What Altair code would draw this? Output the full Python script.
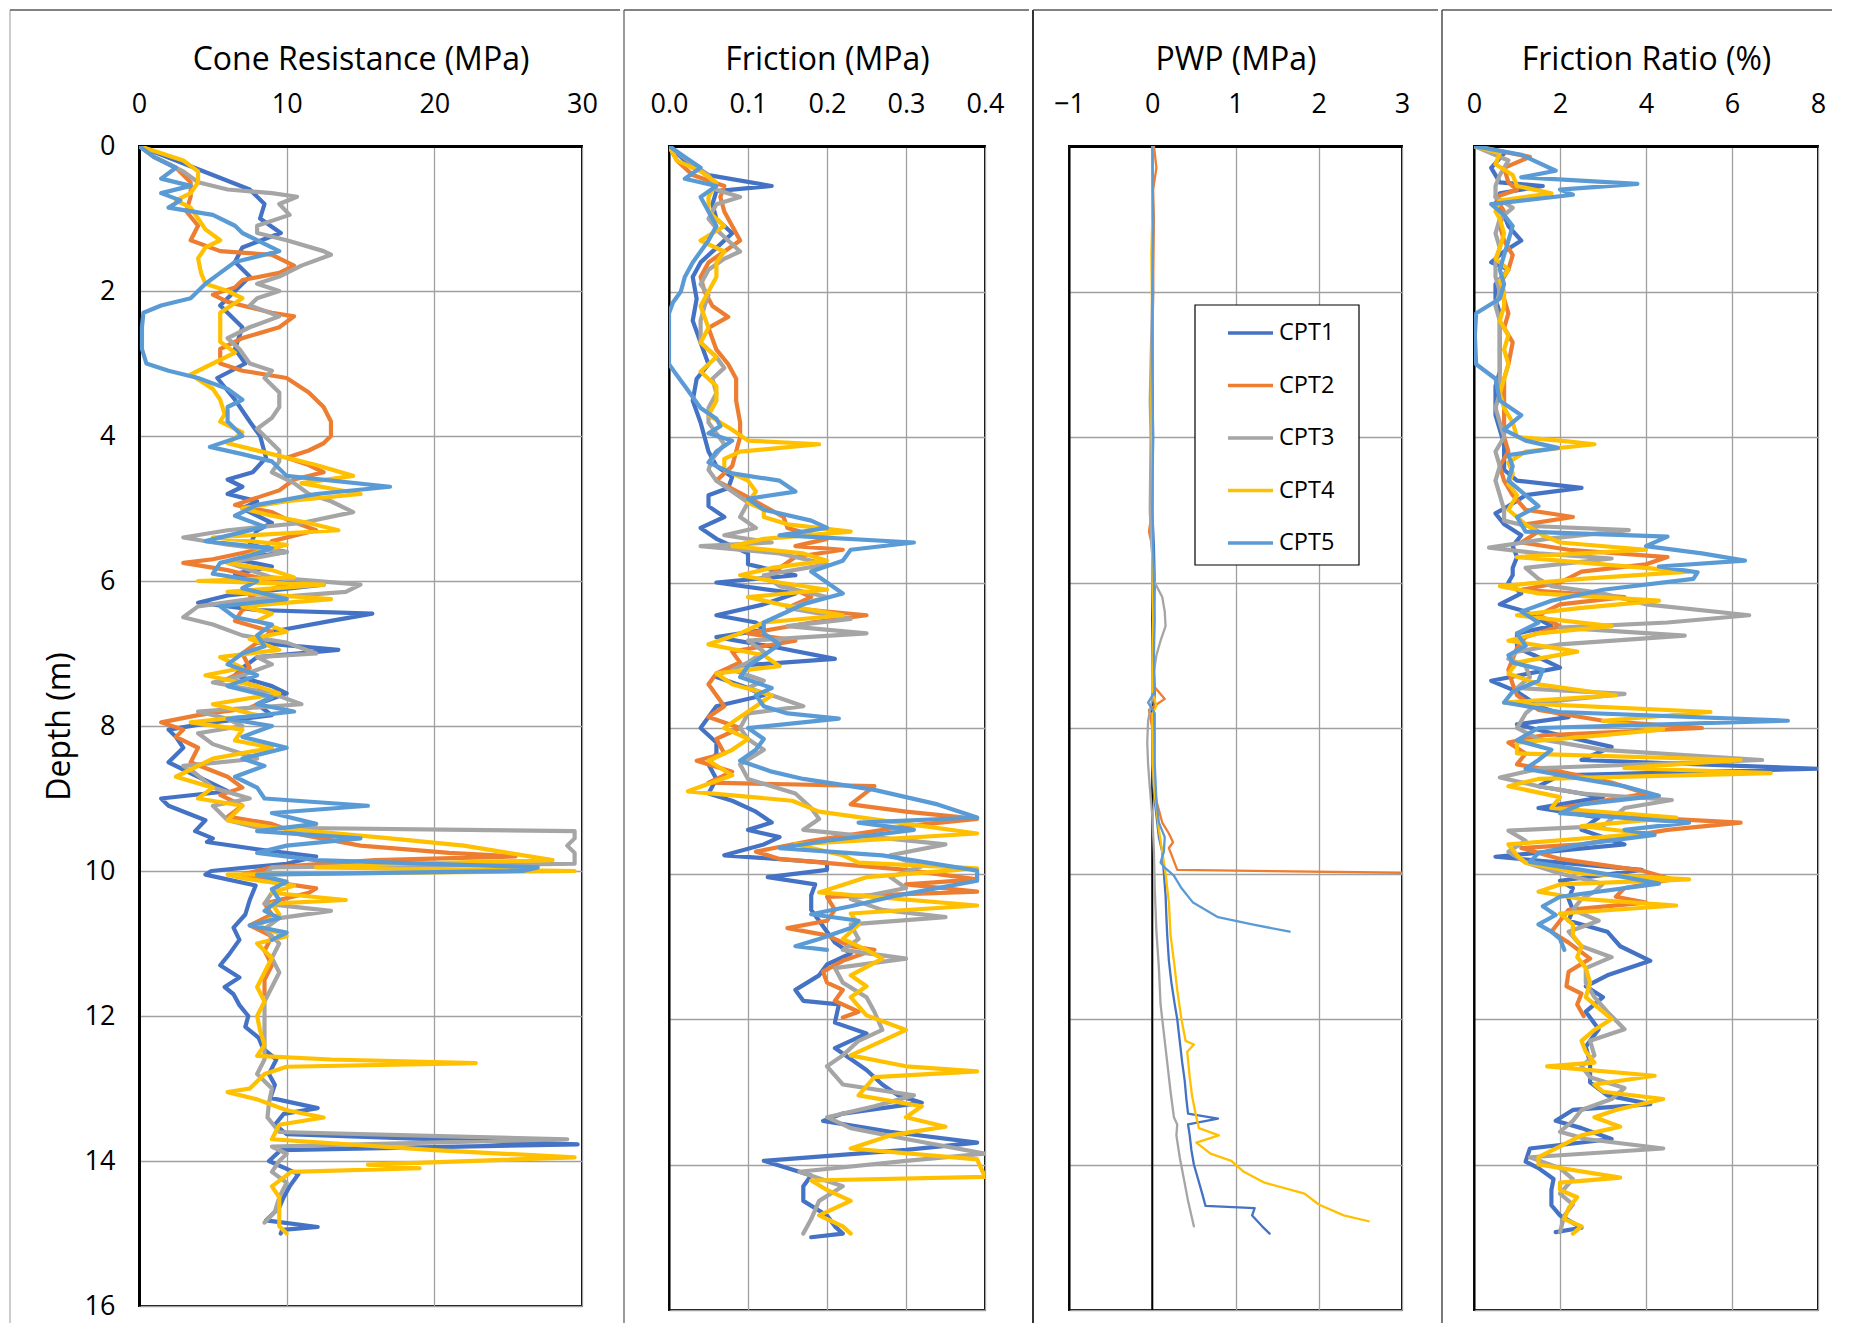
import altair as alt
import pandas as pd

SERIES = ["CPT1", "CPT2", "CPT3", "CPT4", "CPT5"]
COLORS = ["#4472C4", "#ED7D31", "#A5A5A5", "#FFC000", "#5B9BD5"]
FONT = "Open Sans"

# ---------------- Cone resistance qc (MPa): (depth m, value) ----------------
qc_cpt1 = [(0,0),(0.2,2.5),(0.4,5),(0.6,7.5),(0.8,8.5),(1.0,8.2),(1.2,9.6),(1.4,7),(1.6,6.5),(1.8,7.5),(2.0,6.5),(2.2,5.5),(2.5,7),(2.8,6.5),(3.0,7.2),(3.2,5.3),(3.5,6.5),(3.8,7.5),(4.0,8.2),(4.3,8.6),(4.5,7.7),(4.6,6),(4.7,7),(4.8,6),(4.9,8),(5.0,7),(5.2,9),(5.3,8),(5.5,7.5),(5.6,10),(5.7,6.5),(5.8,9),(5.9,6.5),(6.0,8),(6.05,12.5),(6.2,6),(6.3,4),(6.4,8),(6.45,15.8),(6.55,13),(6.7,9),(6.85,8),(6.95,13.5),(7.05,8),(7.2,7),(7.3,6.5),(7.45,9),(7.55,10),(7.7,8),(7.85,9),(7.95,5),(8.05,2),(8.15,2.5),(8.3,3),(8.5,2),(8.7,4),(8.9,6),(9.0,1.5),(9.1,2),(9.3,4.5),(9.45,3.8),(9.55,5),(9.6,4.6),(9.7,8),(9.8,12),(9.9,10),(10.0,4.9),(10.05,4.5),(10.2,7.9),(10.4,7.5),(10.6,7.2),(10.78,6.4),(10.95,6.8),(11.15,6.1),(11.3,5.5),(11.47,6.8),(11.6,5.8),(11.7,6.4),(11.85,6.8),(12.0,7.4),(12.15,7.2),(12.3,8.1),(12.45,8.4),(12.6,9.3),(12.8,8.8),(12.95,9.2),(13.13,8.9),(13.27,12.1),(13.35,9.8),(13.5,9.2),(13.63,10),(13.77,29.7),(13.85,9.6),(14.0,8.8),(14.18,10.8),(14.35,10.2),(14.5,9.8),(14.64,9.5),(14.82,8.6),(14.91,12.1),(14.95,9.7),(15.0,9.6)]
qc_cpt2 = [(0,0),(0.15,1),(0.3,2.5),(0.5,3.5),(0.7,3.5),(0.9,3.2),(1.1,4),(1.3,3.5),(1.45,5.5),(1.5,9),(1.65,10.5),(1.75,9.5),(1.85,7),(1.95,6.5),(2.05,5),(2.15,6),(2.3,9),(2.35,10.5),(2.5,9.5),(2.65,7),(2.8,5.5),(3.0,5.5),(3.1,7),(3.2,10),(3.4,11.5),(3.6,12.5),(3.8,13),(4.0,13),(4.1,12.5),(4.2,11.5),(4.3,10),(4.4,11.5),(4.5,12.5),(4.6,10.5),(4.75,9.5),(4.85,8),(4.95,6.5),(5.05,9),(5.15,10),(5.3,12),(5.45,9),(5.55,8.5),(5.7,5),(5.75,3),(5.85,6),(5.95,8),(6.05,10),(6.2,7.5),(6.3,8.5),(6.4,7),(6.55,6.5),(6.7,9),(6.85,8),(7.0,7),(7.2,7.5),(7.35,6),(7.45,8),(7.6,9),(7.75,7.5),(7.85,4),(7.95,1.5),(8.05,3),(8.15,2.5),(8.3,4),(8.5,3.5),(8.7,6),(8.85,7),(8.95,5.5),(9.1,7),(9.25,6),(9.35,9),(9.5,11),(9.65,15),(9.75,21),(9.8,25.5),(9.85,16),(9.95,9),(10.05,7),(10.15,9),(10.24,12),(10.3,11.5),(10.45,8.5),(10.6,9),(10.75,7.5),(10.9,9),(11.1,8.5),(11.3,9),(11.5,8.5),(11.7,8.5)]
qc_cpt3 = [(0,0),(0.15,1),(0.35,3),(0.5,4),(0.6,6),(0.65,9),(0.7,10.7),(0.8,9.5),(0.95,10.2),(1.1,8),(1.2,8),(1.3,10),(1.45,12.5),(1.5,13),(1.65,11),(1.8,9.5),(1.9,8),(2.0,9.5),(2.1,8),(2.2,7.5),(2.35,9.5),(2.5,7.5),(2.65,6),(2.8,6.8),(3.0,7.5),(3.1,9),(3.2,8.5),(3.4,9.5),(3.6,9.5),(3.75,9),(3.9,8),(4.0,8.5),(4.2,9.5),(4.35,9.5),(4.5,9),(4.65,10.5),(4.8,11.5),(4.9,13),(5.05,14.5),(5.2,11),(5.3,6),(5.4,3),(5.5,6),(5.6,10),(5.75,6),(5.85,7.5),(5.95,9),(6.05,15),(6.15,14),(6.25,7.5),(6.35,4),(6.5,3),(6.6,5),(6.75,7),(6.85,10),(7.0,12),(7.05,8),(7.15,9),(7.3,7),(7.4,5),(7.55,9),(7.7,11),(7.8,4),(7.9,6),(8.0,7),(8.1,4),(8.25,5),(8.45,8),(8.55,3),(8.65,3.8),(8.85,5),(9.0,7.5),(9.1,5),(9.3,6),(9.4,8),(9.45,29.5),(9.55,29.5),(9.65,29),(9.75,29.5),(9.9,29.5),(9.95,9),(10.05,8.5),(10.2,9.5),(10.3,9),(10.45,8.5),(10.55,13),(10.65,9.5),(10.8,8.5),(11.0,9.5),(11.2,9),(11.4,9.5),(11.6,9),(11.8,8.5),(12.0,8.5),(12.3,8.5),(12.6,8.5),(12.8,8),(13.0,9),(13.2,8.8),(13.4,8.7),(13.6,9.5),(13.7,29),(13.8,9),(13.9,10),(14.0,9.5),(14.15,9),(14.3,10),(14.5,9.5),(14.7,9.2),(14.85,8.5)]
qc_cpt4 = [(0,0),(0.1,1.5),(0.2,3),(0.35,4),(0.5,4),(0.65,3.5),(0.75,2.5),(0.85,3.5),(1.0,4),(1.15,4.5),(1.3,5.5),(1.4,4.5),(1.55,4),(1.75,4.2),(1.9,4.5),(2.0,6),(2.1,7),(2.3,5.5),(2.5,5.5),(2.7,5.5),(2.85,6.5),(3.0,5),(3.15,3.5),(3.35,5),(3.5,5.5),(3.7,5.8),(3.8,5.5),(3.95,7),(4.1,6),(4.25,9),(4.4,12),(4.55,14.5),(4.65,11),(4.8,15),(4.9,10),(5.0,7),(5.1,9),(5.2,11.5),(5.3,13.5),(5.4,5),(5.5,10),(5.6,8),(5.75,6),(5.85,9),(5.95,10.5),(6.0,4),(6.05,12.5),(6.15,6),(6.25,13),(6.35,7),(6.45,9),(6.55,8),(6.7,10),(6.8,7.5),(6.95,9.5),(7.05,5.5),(7.2,7),(7.3,4.5),(7.45,8),(7.55,9.5),(7.7,5),(7.85,8),(7.95,3.5),(8.05,7),(8.2,6.5),(8.3,9),(8.45,5),(8.6,3.5),(8.7,2.5),(8.85,5),(9.0,4),(9.1,7),(9.3,6),(9.4,9),(9.55,17),(9.65,22),(9.75,25),(9.85,28),(9.9,18),(9.95,12),(10.0,29.5),(10.05,6),(10.1,7),(10.2,10.5),(10.3,9),(10.4,14),(10.45,9),(10.6,9.5),(10.75,8),(10.9,10),(11.0,8),(11.2,9),(11.4,8.5),(11.6,8),(11.8,8.5),(12.0,8),(12.2,8.2),(12.4,8.5),(12.55,8),(12.6,13),(12.65,22.8),(12.7,10),(12.8,8.5),(13.0,7.5),(13.05,6),(13.15,8),(13.3,10),(13.4,12.5),(13.5,9.5),(13.7,9),(13.85,20),(13.95,29.5),(14.05,15.5),(14.1,19),(14.15,10.3),(14.35,9),(14.5,9.5),(14.7,9.5),(14.9,9.5),(15.0,10)]
qc_cpt5 = [(0,0),(0.15,1),(0.3,2.5),(0.45,1.5),(0.55,3.5),(0.65,1.5),(0.75,2.8),(0.85,2),(0.95,5),(1.1,6.5),(1.2,7),(1.35,8.5),(1.45,9.5),(1.6,6.5),(1.75,5.5),(1.9,4.5),(2.0,4),(2.1,3.5),(2.2,1.5),(2.3,0.3),(2.5,0.2),(2.8,0.2),(3.0,0.5),(3.1,2),(3.2,4),(3.35,6),(3.5,7),(3.6,6),(3.8,6),(4.0,7),(4.15,4.8),(4.25,7),(4.35,9),(4.55,10),(4.7,17),(4.8,12),(4.95,8),(5.1,6.5),(5.25,8.5),(5.35,6.5),(5.45,4.5),(5.55,9),(5.65,7.5),(5.75,5.5),(5.9,5),(6.0,8),(6.1,7),(6.25,10),(6.35,5.5),(6.5,6.5),(6.6,9),(6.75,8),(6.9,8.5),(7.0,7),(7.15,6),(7.3,8),(7.45,6),(7.6,9),(7.7,8),(7.8,10.5),(7.9,6),(8.0,9),(8.15,7),(8.3,10),(8.45,7),(8.55,8.5),(8.7,6.5),(8.85,8),(9.0,8.5),(9.1,15.5),(9.2,9),(9.35,12),(9.45,8),(9.55,15),(9.65,10),(9.75,8),(9.85,12),(9.95,27),(10.0,26),(10.05,8),(10.15,10),(10.25,9),(10.4,9.5),(10.55,8.5),(10.65,9.5),(10.75,7.5),(10.85,10),(10.95,9)]

# ---------------- Sleeve friction fs (MPa) ----------------
fs_cpt1 = [(0,0),(0.2,0.02),(0.4,0.05),(0.55,0.13),(0.62,0.06),(0.8,0.055),(1.0,0.06),(1.2,0.08),(1.4,0.06),(1.6,0.04),(1.8,0.03),(2.1,0.035),(2.4,0.03),(2.7,0.04),(3.0,0.05),(3.2,0.035),(3.5,0.03),(3.8,0.04),(4.0,0.045),(4.2,0.05),(4.4,0.06),(4.55,0.08),(4.7,0.075),(4.8,0.05),(4.95,0.05),(5.1,0.07),(5.25,0.04),(5.4,0.06),(5.6,0.1),(5.75,0.1),(5.9,0.16),(6.0,0.06),(6.15,0.16),(6.3,0.12),(6.45,0.06),(6.55,0.11),(6.65,0.12),(6.75,0.06),(6.9,0.14),(7.05,0.21),(7.15,0.08),(7.3,0.06),(7.45,0.1),(7.55,0.12),(7.7,0.06),(7.85,0.05),(8.0,0.04),(8.2,0.06),(8.35,0.06),(8.5,0.05),(8.7,0.06),(8.9,0.05),(9.0,0.08),(9.15,0.11),(9.3,0.13),(9.4,0.1),(9.5,0.14),(9.6,0.12),(9.75,0.07),(9.85,0.2),(9.95,0.2),(10.05,0.125),(10.15,0.185),(10.3,0.18),(10.5,0.18),(10.65,0.19),(10.8,0.2),(10.95,0.21),(11.1,0.23),(11.25,0.2),(11.4,0.19),(11.6,0.16),(11.75,0.17),(11.8,0.215),(12.05,0.21),(12.2,0.25),(12.4,0.21),(12.55,0.23),(12.7,0.25),(12.9,0.27),(13.05,0.29),(13.15,0.32),(13.3,0.22),(13.4,0.195),(13.55,0.28),(13.7,0.39),(13.8,0.3),(13.95,0.12),(14.15,0.18),(14.3,0.17),(14.5,0.17),(14.7,0.2),(14.85,0.21),(14.95,0.22),(15.0,0.18)]
fs_cpt2 = [(0,0),(0.2,0.01),(0.4,0.03),(0.55,0.07),(0.7,0.065),(0.9,0.07),(1.1,0.08),(1.3,0.09),(1.45,0.07),(1.6,0.05),(1.8,0.04),(2.0,0.045),(2.2,0.055),(2.35,0.075),(2.5,0.05),(2.8,0.06),(3.0,0.075),(3.2,0.085),(3.5,0.085),(3.8,0.09),(4.0,0.09),(4.2,0.085),(4.4,0.08),(4.6,0.06),(4.8,0.095),(4.95,0.12),(5.1,0.145),(5.25,0.15),(5.4,0.2),(5.5,0.16),(5.55,0.22),(5.65,0.16),(5.8,0.14),(5.95,0.12),(6.05,0.15),(6.2,0.18),(6.35,0.15),(6.45,0.25),(6.55,0.18),(6.7,0.1),(6.8,0.16),(6.95,0.08),(7.1,0.09),(7.25,0.06),(7.4,0.05),(7.55,0.06),(7.7,0.07),(7.85,0.05),(8.0,0.09),(8.15,0.06),(8.35,0.07),(8.45,0.035),(8.6,0.08),(8.75,0.05),(8.8,0.26),(9.05,0.23),(9.15,0.3),(9.25,0.39),(9.35,0.3),(9.55,0.18),(9.7,0.11),(9.8,0.14),(9.95,0.3),(10.08,0.39),(10.15,0.3),(10.25,0.39),(10.32,0.2),(10.5,0.21),(10.65,0.2),(10.75,0.15),(10.85,0.2),(11.0,0.23),(11.05,0.26),(11.2,0.22),(11.35,0.195),(11.5,0.2),(11.6,0.22),(11.75,0.21),(11.9,0.24),(11.98,0.22)]
fs_cpt3 = [(0,0),(0.25,0.03),(0.4,0.05),(0.6,0.06),(0.7,0.09),(0.8,0.06),(1.0,0.05),(1.2,0.065),(1.35,0.08),(1.45,0.09),(1.55,0.07),(1.7,0.05),(1.9,0.04),(2.05,0.05),(2.2,0.045),(2.4,0.04),(2.7,0.04),(2.9,0.06),(3.05,0.07),(3.2,0.055),(3.4,0.06),(3.6,0.05),(3.8,0.05),(4.1,0.07),(4.3,0.055),(4.45,0.05),(4.6,0.06),(4.75,0.08),(4.9,0.1),(5.1,0.09),(5.25,0.11),(5.35,0.07),(5.45,0.13),(5.5,0.04),(5.6,0.14),(5.75,0.2),(5.9,0.12),(6.05,0.14),(6.2,0.2),(6.35,0.15),(6.5,0.23),(6.6,0.15),(6.7,0.25),(6.8,0.1),(6.95,0.12),(7.1,0.1),(7.2,0.08),(7.35,0.12),(7.45,0.1),(7.55,0.13),(7.7,0.17),(7.8,0.1),(8.0,0.09),(8.15,0.1),(8.3,0.12),(8.5,0.09),(8.7,0.1),(8.9,0.16),(9.1,0.18),(9.25,0.19),(9.4,0.17),(9.6,0.35),(9.75,0.28),(9.9,0.32),(10.05,0.28),(10.2,0.3),(10.35,0.23),(10.5,0.27),(10.6,0.35),(10.7,0.23),(10.9,0.24),(11.05,0.22),(11.17,0.3),(11.3,0.21),(11.5,0.22),(11.7,0.25),(11.9,0.26),(12.15,0.27),(12.3,0.24),(12.5,0.22),(12.65,0.2),(12.9,0.22),(13.05,0.31),(13.2,0.26),(13.35,0.2),(13.5,0.23),(13.65,0.3),(13.85,0.4),(13.95,0.3),(14.1,0.165),(14.3,0.22),(14.5,0.19),(14.75,0.18),(14.95,0.17)]
fs_cpt4 = [(0,0),(0.2,0.01),(0.35,0.04),(0.5,0.06),(0.7,0.05),(0.9,0.05),(1.1,0.07),(1.3,0.04),(1.45,0.07),(1.6,0.06),(1.8,0.06),(2.0,0.05),(2.2,0.04),(2.5,0.05),(2.7,0.04),(2.9,0.06),(3.1,0.04),(3.3,0.06),(3.5,0.06),(3.7,0.05),(3.9,0.08),(4.05,0.1),(4.1,0.19),(4.2,0.09),(4.3,0.07),(4.45,0.07),(4.6,0.1),(4.75,0.11),(4.9,0.1),(5.0,0.12),(5.1,0.12),(5.2,0.15),(5.3,0.23),(5.4,0.12),(5.5,0.08),(5.6,0.17),(5.7,0.2),(5.8,0.13),(5.9,0.09),(6.0,0.14),(6.1,0.2),(6.2,0.1),(6.3,0.14),(6.45,0.22),(6.55,0.12),(6.7,0.09),(6.85,0.05),(7.0,0.12),(7.15,0.14),(7.25,0.06),(7.4,0.08),(7.55,0.13),(7.7,0.11),(7.85,0.09),(8.0,0.07),(8.15,0.1),(8.3,0.08),(8.45,0.05),(8.65,0.08),(8.87,0.024),(9.0,0.156),(9.15,0.19),(9.3,0.29),(9.45,0.39),(9.6,0.16),(9.75,0.22),(9.85,0.24),(9.93,0.39),(10.05,0.25),(10.26,0.19),(10.44,0.39),(10.55,0.23),(10.7,0.24),(10.9,0.22),(11.05,0.25),(11.17,0.27),(11.4,0.23),(11.55,0.25),(11.7,0.23),(11.95,0.25),(12.15,0.3),(12.3,0.27),(12.5,0.23),(12.65,0.3),(12.72,0.39),(12.8,0.26),(13.05,0.24),(13.2,0.32),(13.35,0.3),(13.48,0.35),(13.6,0.28),(13.78,0.23),(13.93,0.39),(14.17,0.4),(14.22,0.18),(14.35,0.2),(14.5,0.23),(14.7,0.19),(14.85,0.22),(14.95,0.23)]
fs_cpt5 = [(0,0),(0.15,0.02),(0.3,0.04),(0.45,0.02),(0.55,0.06),(0.7,0.04),(0.9,0.05),(1.1,0.06),(1.3,0.05),(1.45,0.04),(1.6,0.03),(1.8,0.02),(2.0,0.015),(2.15,0.005),(2.3,0),(2.6,0),(3.0,0),(3.15,0.01),(3.3,0.02),(3.45,0.03),(3.6,0.04),(3.75,0.06),(3.85,0.065),(3.95,0.05),(4.05,0.08),(4.2,0.06),(4.35,0.05),(4.5,0.08),(4.6,0.14),(4.75,0.16),(4.85,0.1),(5.0,0.12),(5.15,0.18),(5.25,0.2),(5.35,0.14),(5.45,0.31),(5.55,0.23),(5.7,0.22),(5.85,0.18),(6.0,0.2),(6.15,0.22),(6.3,0.17),(6.45,0.14),(6.55,0.12),(6.7,0.12),(6.85,0.14),(7.0,0.12),(7.15,0.1),(7.3,0.09),(7.45,0.13),(7.55,0.11),(7.7,0.12),(7.8,0.15),(7.87,0.215),(8.0,0.1),(8.15,0.12),(8.3,0.11),(8.45,0.09),(8.6,0.13),(8.7,0.17),(8.85,0.26),(9.05,0.34),(9.23,0.39),(9.3,0.24),(9.4,0.31),(9.55,0.2),(9.65,0.14),(9.75,0.27),(9.96,0.39),(10.1,0.39),(10.3,0.29),(10.45,0.23),(10.56,0.18),(10.65,0.24),(10.75,0.23),(10.9,0.19),(11.0,0.16),(11.05,0.2)]

# ---------------- Pore water pressure (MPa) ----------------
pwp_cpt1 = [(0,0.0),(0.5,0.01),(1,0.0),(2,0.01),(3,0.0),(4,0.01),(5,0.0),(5.5,0.02),(6,0.03),(6.5,0.02),(7,0.01),(7.5,0.03),(8,0.01),(8.5,0.0),(8.9,0.02),(9.2,0.05),(9.5,0.08),(9.7,0.12),(10.0,0.14),(10.3,0.16),(10.6,0.17),(10.85,0.18),(11.2,0.2),(11.5,0.23),(11.8,0.27),(12.0,0.3),(12.3,0.33),(12.6,0.36),(12.85,0.39),(13.1,0.41),(13.3,0.43),(13.37,0.79),(13.45,0.43),(13.6,0.45),(13.8,0.47),(14.0,0.5),(14.2,0.55),(14.4,0.6),(14.57,0.64),(14.6,1.23),(14.7,1.2),(14.85,1.32),(14.95,1.41)]
pwp_cpt2 = [(0,0.02),(0.3,0.05),(0.6,0.01),(1,0.02),(2,0.01),(3,0.0),(4,0.0),(5,0.0),(5.3,-0.04),(5.5,0.0),(6,0.0),(6.5,0.01),(7,0.0),(7.4,0.0),(7.6,0.15),(7.7,0.02),(7.75,-0.04),(8,0.0),(8.5,0.0),(9.0,0.05),(9.3,0.12),(9.45,0.2),(9.57,0.25),(9.65,0.2),(9.8,0.25),(9.95,0.3),(9.99,3.0)]
pwp_cpt3 = [(0,0.0),(1,0.01),(2,0.0),(3,-0.02),(3.5,-0.03),(4,-0.02),(5,-0.03),(5.5,-0.01),(6,0.03),(6.2,0.12),(6.4,0.15),(6.6,0.16),(6.8,0.1),(7.0,0.05),(7.3,0.01),(7.6,0.0),(7.9,-0.05),(8.2,-0.06),(8.5,-0.05),(8.8,-0.03),(9.2,0.0),(9.7,0.02),(10.2,0.03),(10.8,0.05),(11.3,0.08),(11.8,0.1),(12.2,0.14),(12.6,0.18),(13.0,0.22),(13.35,0.26),(13.45,0.3),(13.6,0.29),(13.9,0.33),(14.2,0.38),(14.5,0.43),(14.7,0.47),(14.85,0.5)]
pwp_cpt4 = [(0,0.0),(1,0.0),(1.5,-0.01),(2.5,0.0),(3.5,-0.01),(4.5,0.0),(5.5,0.0),(6.5,0.01),(7.5,0.0),(7.7,0.05),(7.8,0.0),(8.5,0.01),(8.8,0.02),(9.1,0.05),(9.4,0.08),(9.7,0.12),(10.0,0.16),(10.4,0.2),(10.85,0.22),(11.2,0.26),(11.6,0.3),(12.0,0.35),(12.3,0.4),(12.35,0.5),(12.45,0.42),(12.8,0.45),(13.07,0.48),(13.3,0.52),(13.5,0.56),(13.6,0.8),(13.7,0.53),(13.85,0.7),(13.95,0.95),(14.1,1.1),(14.25,1.35),(14.4,1.83),(14.55,2.0),(14.7,2.3),(14.78,2.6)]
pwp_cpt5 = [(0,0.0),(1,0.01),(2,0.0),(3,0.0),(4,0.01),(5,0.0),(6,0.02),(6.5,0.03),(7,0.02),(7.5,0.03),(7.65,-0.05),(7.8,0.03),(8.5,0.03),(9.0,0.05),(9.3,0.08),(9.5,0.15),(9.7,0.14),(9.85,0.1),(9.92,0.15),(10.03,0.26),(10.2,0.35),(10.4,0.49),(10.6,0.79),(10.7,1.2),(10.8,1.65)]

# ---------------- Friction ratio (%) ----------------
rf_cpt1 = [(0,0),(0.1,0.7),(0.3,0.4),(0.5,0.6),(0.55,1.6),(0.65,0.6),(0.8,0.5),(0.95,0.7),(1.1,0.8),(1.3,1.1),(1.45,0.7),(1.6,0.4),(1.7,0.8),(1.9,0.5),(2.1,0.5),(2.3,0.6),(2.6,0.6),(2.9,0.6),(3.1,0.6),(3.3,0.5),(3.5,0.5),(3.7,0.5),(3.9,0.6),(4.1,0.7),(4.3,0.7),(4.45,0.7),(4.6,1.0),(4.7,2.5),(4.8,1.2),(4.95,0.8),(5.05,0.5),(5.2,0.7),(5.35,1.1),(5.5,0.9),(5.65,1.0),(5.8,0.9),(5.9,0.9),(6.0,0.8),(6.15,1.1),(6.3,0.6),(6.4,1.2),(6.5,1.5),(6.6,1.8),(6.7,1.0),(6.9,1.0),(7.0,1.4),(7.17,2.0),(7.35,0.4),(7.5,1.0),(7.7,1.5),(7.85,2.2),(7.95,1.0),(8.1,2.0),(8.26,3.2),(8.44,2.5),(8.56,8.0),(8.65,2.0),(8.8,1.5),(8.95,3.0),(9.1,1.5),(9.23,2.9),(9.4,2.5),(9.6,3.5),(9.77,0.5),(9.95,3.9),(10.1,2.0),(10.2,2.3),(10.35,2.2),(10.5,2.3),(10.65,2.2),(10.8,3.1),(11.0,3.4),(11.2,4.1),(11.4,3.1),(11.55,2.6),(11.7,3.0),(11.9,2.6),(12.14,2.9),(12.3,2.7),(12.38,2.6),(12.6,2.7),(12.87,2.7),(13.05,3.1),(13.17,4.1),(13.25,2.3),(13.4,1.9),(13.5,2.5),(13.65,3.2),(13.78,1.3),(13.96,1.2),(14.05,1.5),(14.2,1.85),(14.35,1.8),(14.56,1.8),(14.7,2.0),(14.87,2.5),(14.93,1.9)]
rf_cpt2 = [(0,0),(0.15,1.3),(0.3,0.7),(0.5,0.8),(0.6,1.0),(0.7,0.5),(0.9,0.7),(1.1,0.6),(1.3,0.7),(1.5,0.9),(1.7,0.8),(1.9,0.6),(2.1,0.7),(2.3,0.8),(2.5,0.7),(2.7,0.9),(3.0,0.8),(3.2,0.7),(3.4,0.7),(3.6,0.7),(3.8,0.7),(4.0,0.7),(4.2,0.8),(4.4,0.6),(4.6,0.7),(4.8,0.9),(5.0,1.2),(5.1,2.3),(5.2,1.2),(5.3,1.5),(5.45,1.1),(5.55,2.2),(5.65,4.5),(5.75,4.0),(5.85,2.5),(6.0,2.0),(6.1,1.1),(6.2,3.5),(6.3,2.0),(6.45,1.5),(6.6,2.0),(6.75,1.2),(6.9,1.0),(7.05,0.9),(7.2,0.8),(7.4,0.9),(7.55,1.0),(7.75,1.5),(7.9,3.0),(8.0,5.3),(8.1,1.6),(8.2,0.8),(8.35,1.2),(8.5,1.0),(8.6,2.0),(8.75,3.2),(8.9,4.0),(9.0,3.0),(9.1,2.0),(9.2,3.0),(9.3,6.2),(9.4,4.5),(9.5,3.5),(9.6,2.5),(9.65,1.1),(9.8,2.0),(9.96,3.9),(10.08,4.6),(10.2,3.5),(10.32,3.3),(10.4,4.0),(10.5,2.2),(10.65,2.0),(10.8,1.8),(10.95,2.2),(11.17,2.7),(11.35,2.2),(11.55,2.15),(11.65,2.5),(11.8,2.4),(11.96,2.55)]
rf_cpt3 = [(0,0),(0.2,0.8),(0.4,0.6),(0.55,0.5),(0.7,0.5),(0.85,0.9),(1.0,0.6),(1.2,0.5),(1.4,0.6),(1.6,0.5),(1.8,0.5),(2.0,0.6),(2.2,0.5),(2.4,0.6),(2.6,0.6),(2.8,0.6),(3.0,0.6),(3.2,0.6),(3.4,0.6),(3.6,0.5),(3.8,0.6),(4.0,0.7),(4.2,0.5),(4.4,0.6),(4.6,0.5),(4.8,0.6),(5.0,0.7),(5.15,0.7),(5.22,1.2),(5.28,3.6),(5.4,1.7),(5.52,0.35),(5.6,1.5),(5.67,3.2),(5.8,1.2),(5.95,1.5),(6.05,1.8),(6.15,3.0),(6.3,4.0),(6.45,6.4),(6.55,4.5),(6.62,2.0),(6.73,4.9),(6.85,2.0),(6.95,1.0),(7.05,0.8),(7.15,1.2),(7.3,1.3),(7.45,1.0),(7.53,3.5),(7.65,1.5),(7.8,1.2),(8.0,1.0),(8.15,1.5),(8.3,3.0),(8.44,6.7),(8.55,1.6),(8.68,0.6),(8.8,1.5),(8.9,2.5),(8.99,4.6),(9.1,3.5),(9.25,3.2),(9.35,3.0),(9.41,0.8),(9.55,1.2),(9.7,0.8),(9.85,1.2),(10.0,2.0),(10.14,3.0),(10.25,2.8),(10.35,2.5),(10.5,2.3),(10.65,2.9),(10.8,2.2),(11.0,2.5),(11.15,3.2),(11.3,2.6),(11.5,2.6),(11.7,2.8),(11.9,3.1),(12.14,3.5),(12.3,2.7),(12.5,2.8),(12.65,2.5),(12.8,2.7),(12.95,3.5),(13.1,3.2),(13.25,2.5),(13.4,2.3),(13.55,2.0),(13.65,2.6),(13.78,4.4),(13.9,1.3),(14.05,2.0),(14.2,2.3),(14.4,2.0),(14.55,2.3),(14.7,2.1),(14.93,2.0)]
rf_cpt4 = [(0,0),(0.1,0.6),(0.25,0.5),(0.4,0.9),(0.55,1.0),(0.65,1.8),(0.75,0.6),(0.9,0.5),(1.0,0.6),(1.2,0.7),(1.4,0.6),(1.55,0.5),(1.7,0.8),(1.85,0.6),(2.0,0.7),(2.2,0.7),(2.4,0.6),(2.6,0.8),(2.8,0.7),(3.0,0.8),(3.2,0.7),(3.4,0.6),(3.6,0.7),(3.8,0.9),(4.0,1.0),(4.05,2.0),(4.1,2.8),(4.2,1.2),(4.35,0.8),(4.5,0.9),(4.65,0.8),(4.8,1.0),(5.0,0.8),(5.2,1.2),(5.35,1.6),(5.45,2.0),(5.55,4.0),(5.65,1.0),(5.75,3.0),(5.85,5.0),(5.95,2.5),(6.05,0.6),(6.15,1.5),(6.25,4.3),(6.35,2.5),(6.45,1.0),(6.6,3.2),(6.7,1.5),(6.8,0.8),(6.95,2.4),(7.1,1.0),(7.25,0.8),(7.4,1.5),(7.55,3.3),(7.65,0.7),(7.78,5.5),(7.9,3.0),(8.02,4.4),(8.1,3.0),(8.2,1.0),(8.35,1.0),(8.44,6.2),(8.55,3.5),(8.62,6.9),(8.7,1.5),(8.8,0.8),(8.95,2.0),(9.1,1.8),(9.23,4.7),(9.35,2.5),(9.45,4.0),(9.6,0.8),(9.75,1.0),(9.85,1.2),(10.0,2.5),(10.08,5.0),(10.15,2.0),(10.25,1.5),(10.35,2.5),(10.44,4.7),(10.55,2.0),(10.7,2.3),(10.85,2.3),(11.0,2.5),(11.15,2.4),(11.3,2.6),(11.5,2.7),(11.7,2.6),(11.85,2.9),(12.0,3.2),(12.15,2.8),(12.3,2.5),(12.45,2.6),(12.6,2.8),(12.65,1.7),(12.78,4.2),(12.9,2.8),(13.0,3.0),(13.1,4.4),(13.25,3.3),(13.35,2.8),(13.48,3.4),(13.6,2.5),(13.75,2.0),(13.9,1.5),(14.0,1.5),(14.18,3.4),(14.25,2.0),(14.35,2.0),(14.45,2.4),(14.6,2.2),(14.75,2.1),(14.85,2.5),(14.95,2.3)]
rf_cpt5 = [(0,0),(0.12,1.1),(0.34,1.9),(0.43,1.1),(0.52,3.8),(0.6,2.0),(0.67,2.3),(0.8,0.4),(0.95,0.7),(1.1,0.9),(1.3,0.8),(1.5,0.7),(1.7,0.6),(1.9,0.7),(2.1,0.6),(2.3,0.05),(2.6,0.02),(3.0,0.05),(3.2,0.5),(3.5,0.6),(3.7,1.1),(3.9,0.7),(4.05,1.2),(4.15,1.95),(4.25,0.8),(4.4,0.9),(4.6,0.8),(4.8,1.2),(4.95,1.5),(5.1,1.0),(5.3,1.2),(5.37,4.5),(5.5,4.0),(5.6,5.3),(5.7,6.3),(5.78,4.3),(5.86,5.2),(5.95,5.1),(6.1,3.0),(6.25,1.8),(6.4,1.1),(6.55,1.5),(6.7,1.0),(6.87,1.2),(7.0,0.8),(7.1,0.9),(7.2,1.6),(7.35,1.5),(7.5,0.9),(7.65,0.7),(7.78,2.0),(7.9,7.3),(8.0,1.5),(8.1,1.2),(8.17,1.0),(8.3,1.8),(8.44,1.5),(8.56,1.2),(8.7,2.5),(8.8,3.5),(8.93,4.3),(9.05,2.5),(9.17,2.0),(9.3,5.0),(9.4,3.5),(9.47,4.2),(9.6,2.5),(9.72,1.5),(9.84,1.3),(9.95,2.5),(10.05,3.5),(10.14,4.3),(10.32,2.0),(10.45,1.6),(10.57,1.9),(10.7,1.5),(10.8,1.8),(10.9,2.0),(11.05,2.1)]

DEPTH_TICKS = [0, 2, 4, 6, 8, 10, 12, 14, 16]
TOP = -136


def frame(lists, xmax=None):
    rows = []
    for name, pts in zip(SERIES, lists):
        for i, (d, v) in enumerate(pts):
            if xmax is not None:
                v = min(v, xmax)
            rows.append({"series": name, "d": d, "v": v, "i": i})
    return pd.DataFrame(rows)


one = pd.DataFrame({"k": [0]})


def panel(df, title, xdom, xvals, xfmt, w, h, left, right, first, sw,
          legend=None, zero_line=False, left_color="#7F7F7F", legend_box=None):
    xenc = alt.X("v:Q", scale=alt.Scale(domain=xdom, nice=False, zero=False),
                 axis=alt.Axis(orient="top", values=xvals, format=xfmt, title=title,
                               labelPadding=27.5, titlePadding=14, ticks=False, labelFlush=False,
                               labelFont=FONT, labelFontSize=27, labelColor="black",
                               titleFont=FONT, titleFontSize=32, titleFontWeight="normal",
                               titleColor="black", gridColor="#A0A0A0", gridWidth=1.3,
                               domain=True, domainColor="black", domainWidth=3, grid=True))
    if first:
        yaxis = alt.Axis(values=DEPTH_TICKS, title="Depth (m)", labelPadding=24,
                         titlePadding=7.5, ticks=False, labelFlush=False,
                         labelFont=FONT, labelFontSize=27, labelColor="black",
                         titleFont=FONT, titleFontSize=32, titleFontWeight="normal",
                         titleColor="black", gridColor="#A0A0A0", gridWidth=1.3,
                         domain=True, domainColor="black", domainWidth=3, grid=True)
    else:
        yaxis = alt.Axis(values=DEPTH_TICKS, title=None, labels=False, ticks=False,
                         gridColor="#A0A0A0", gridWidth=1.3,
                         domain=True, domainColor="black", domainWidth=2, grid=True)
    yenc = alt.Y("d:Q", scale=alt.Scale(domain=[0, 16], reverse=True, nice=False), axis=yaxis)
    color = alt.Color("series:N", scale=alt.Scale(domain=SERIES, range=COLORS), legend=legend)

    layers = []
    deco = alt.Chart(one)
    # chart-area borders (decoration)
    layers.append(deco.mark_rule(color=left_color, strokeWidth=1.6).encode(
        x=alt.value(left), y=alt.value(TOP), y2=alt.value(1177)))
    layers.append(deco.mark_rule(color="#FFFFFF", strokeWidth=1).encode(
        x=alt.value(w + right), y=alt.value(TOP), y2=alt.value(1177)))
    layers.append(deco.mark_rule(color="#595959", strokeWidth=1.6).encode(
        x=alt.value(left), x2=alt.value(w + right), y=alt.value(TOP)))
    if legend_box is not None:
        bx, by, bw, bh = legend_box
        layers.append(deco.mark_rect(fill="white", stroke="black", strokeWidth=1.2).encode(
            x=alt.value(bx), x2=alt.value(bx + bw), y=alt.value(by), y2=alt.value(by + bh)))
    if zero_line:
        layers.append(alt.Chart(pd.DataFrame({"v": [0]})).mark_rule(color="black", strokeWidth=2).encode(x=xenc))
    layers.append(alt.Chart(df).mark_line(strokeWidth=sw, clip=True, strokeJoin="round", strokeCap="round").encode(
        x=xenc, y=yenc, color=color, order=alt.Order("i:Q")))
    return alt.layer(*layers).properties(width=w, height=h)


p1 = panel(frame([qc_cpt1, qc_cpt2, qc_cpt3, qc_cpt4, qc_cpt5]), "Cone Resistance (MPa)",
           [0, 30], [0, 10, 20, 30], "d", 443, 1160, -129, 38, True, 4.2, left_color="#BFBFBF")
p2 = panel(frame([fs_cpt1, fs_cpt2, fs_cpt3, fs_cpt4, fs_cpt5], 0.4), "Friction (MPa)",
           [0, 0.4], [0, 0.1, 0.2, 0.3, 0.4], ".1f", 316, 1164, -45, 44, False, 4.2, left_color="#808080")
leg = alt.Legend(title=None, orient="none", legendX=157, legendY=162.5, symbolType="stroke",
                 symbolSize=2025, symbolStrokeWidth=3.5, rowPadding=16.5, padding=0,
                 labelFont=FONT, labelFontSize=23.5, labelColor="black", labelOffset=4)
p3 = panel(frame([pwp_cpt1, pwp_cpt2, pwp_cpt3, pwp_cpt4, pwp_cpt5]), "PWP (MPa)",
           [-1, 3], [-1, 0, 1, 2, 3], "d", 333, 1164, -36, 36, False, 2.3, legend=leg,
           zero_line=True, left_color="#000000", legend_box=(126, 159, 164, 260))
p4 = panel(frame([rf_cpt1, rf_cpt2, rf_cpt3, rf_cpt4, rf_cpt5]), "Friction Ratio (%)",
           [0, 8], [0, 2, 4, 6, 8], "d", 344, 1164, -32, 14, False, 4.2, left_color="#595959")

chart = alt.hconcat(p1, p2, p3, p4, spacing=0, bounds="full", padding=0,
                    background="white").resolve_legend(
    color="independent"
).configure_view(stroke="black", strokeWidth=2)

chart.save("out.html", embed_options={"renderer": "svg", "actions": False})
